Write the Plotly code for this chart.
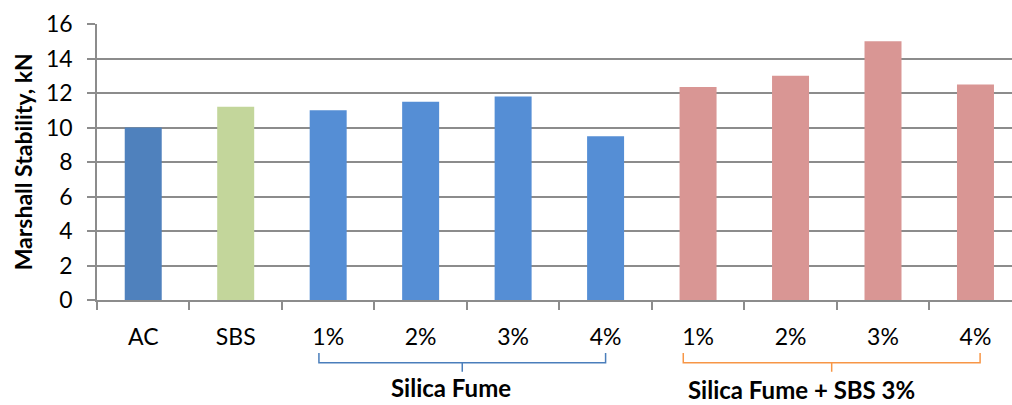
import plotly.graph_objects as go

# ---- data ----
labels = ["AC", "SBS", "1%", "2%", "3%", "4%", "1%", "2%", "3%", "4%"]
values = [10.0, 11.2, 11.0, 11.5, 11.8, 9.5, 12.35, 13.0, 15.0, 12.5]
groups = ["AC", "SBS", "SF", "SF", "SF", "SF", "SFSBS", "SFSBS", "SFSBS", "SFSBS"]
group_titles = {"SF": "Silica Fume", "SFSBS": "Silica Fume + SBS 3%"}
y_title = "Marshall Stability, kN"
y_tickvals = [0, 2, 4, 6, 8, 10, 12, 14, 16]

# ---- styling ----
group_colors = {"AC": "#4F81BD", "SBS": "#C3D69B", "SF": "#558ED5", "SFSBS": "#D99694"}
bracket_style = {
    "SF": dict(color="#4A7EBB", left=-0.10, right=0.0, text_dx=-0.12, text_y=-0.316),
    "SFSBS": dict(color="#F79646", left=-0.16, right=0.05, text_dx=-0.33, text_y=-0.324),
}
GRID = "#8C8C8C"
FONT = "Lato"
TICK_SIZE = 23
TITLE_SIZE = 23
GROUP_SIZE = 24

x = list(range(len(labels)))

fig = go.Figure()
fig.add_trace(go.Bar(
    x=x, y=values,
    marker=dict(color=[group_colors[g] for g in groups], line=dict(width=0)),
    width=0.4,
    showlegend=False,
))

shapes = []
annotations = []
for g, title in group_titles.items():
    idx = [i for i, gg in enumerate(groups) if gg == g]
    st = bracket_style[g]
    x0 = min(idx) + st["left"]
    x1 = max(idx) + st["right"]
    mid = (x0 + x1) / 2
    y_top, y_h, y_low = -0.192, -0.227, -0.260
    path = (f"M {x0},{y_top} L {x0},{y_h} L {x1},{y_h} L {x1},{y_top} "
            f"M {mid},{y_h} L {mid},{y_low}")
    shapes.append(dict(type="path", path=path, xref="x", yref="paper",
                       line=dict(color=st["color"], width=1.5)))
    annotations.append(dict(
        x=mid + st["text_dx"], y=st["text_y"], xref="x", yref="paper",
        text=f"<b>{title}</b>", showarrow=False, xanchor="center", yanchor="middle",
        font=dict(family=FONT, size=GROUP_SIZE, color="black"),
    ))

annotations.append(dict(
    x=-0.0805, y=0.5, xref="paper", yref="paper",
    text=f"<b>{y_title}</b>", textangle=-90, showarrow=False,
    xanchor="center", yanchor="middle",
    font=dict(family=FONT, size=TITLE_SIZE, color="black"),
))

fig.update_layout(
    width=1012, height=405,
    margin=dict(l=97, r=0, t=24, b=105),
    plot_bgcolor="white", paper_bgcolor="white",
    bargap=0.6,
    shapes=shapes, annotations=annotations,
    font=dict(family=FONT, size=TICK_SIZE, color="black"),
    xaxis=dict(
        range=[-0.5, 9.395],
        tickmode="array", tickvals=x, ticktext=labels,
        ticks="", showgrid=False, zeroline=False,
        showline=True, linecolor=GRID, linewidth=1.5,
        ticklabelstandoff=16,
        tickfont=dict(family=FONT, size=TICK_SIZE, color="black"),
        minor=dict(tickvals=[i - 0.5 for i in range(len(labels) + 1)],
                   ticks="outside", ticklen=8, tickcolor=GRID, tickwidth=1.5,
                   showgrid=False),
    ),
    yaxis=dict(
        range=[0, 16], tickmode="array", tickvals=y_tickvals,
        showgrid=True, gridcolor=GRID, gridwidth=1.5,
        zeroline=False, showline=True, linecolor=GRID, linewidth=1.5,
        ticks="outside", ticklen=8, tickcolor=GRID, tickwidth=1.5,
        ticklabelstandoff=10,
        tickfont=dict(family=FONT, size=TICK_SIZE, color="black"),
    ),
)

fig.write_html("out.html")
